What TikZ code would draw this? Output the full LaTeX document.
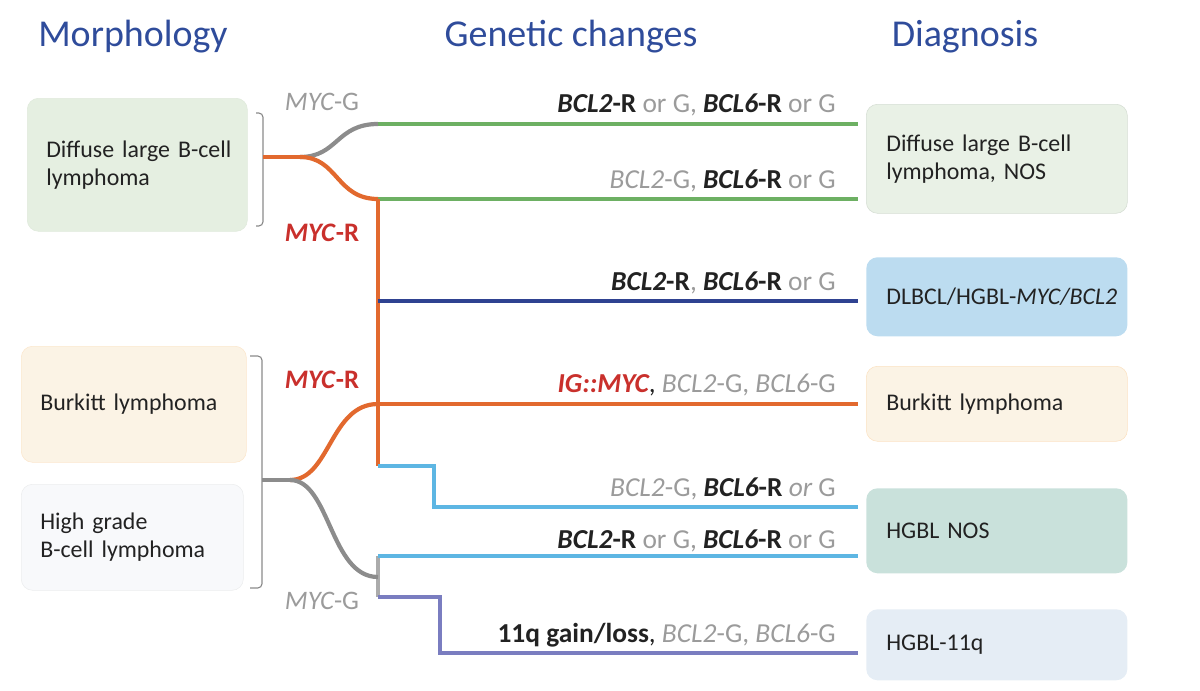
\documentclass[tikz,border=0pt]{standalone}
\usepackage{fontspec}
\setmainfont{Carlito}
\usepackage{xcolor}
\usepackage{tikz}
\usetikzlibrary{positioning,calc}
\definecolor{ttl}{HTML}{2F4C9B}
\definecolor{txt}{HTML}{222222}
\definecolor{lbl}{HTML}{9B9B9B}
\definecolor{myred}{HTML}{C9302C}
\definecolor{orng}{HTML}{E2692E}
\definecolor{grn}{HTML}{6DB063}
\definecolor{gline}{HTML}{8C8C8C}
\definecolor{lgline}{HTML}{ABABAB}
\definecolor{navy}{HTML}{2F4291}
\definecolor{lblue}{HTML}{5DB6E3}
\definecolor{purp}{HTML}{7A7DC0}
\definecolor{brk}{HTML}{8A8A8A}
\definecolor{fdlbcl}{HTML}{E5EFE1}
\definecolor{fburk}{HTML}{FBF3E5}
\definecolor{fhgbl}{HTML}{F8F9FB}
\definecolor{fdnos}{HTML}{E9F1E6}
\definecolor{fdhit}{HTML}{BCDCF0}
\definecolor{fnos}{HTML}{C9E1DB}
\definecolor{f11q}{HTML}{E5EDF5}
\newcommand{\bgene}[1]{{\bfseries\itshape #1}}
\newcommand{\ggene}[1]{\textcolor{lbl}{\itshape #1}}
\newcommand{\gry}[1]{\textcolor{lbl}{#1}}

\begin{document}
\begin{tikzpicture}[x=0.025cm, y=-0.025cm,
    title/.style={font=\fontsize{27}{32}\selectfont, text=ttl, anchor=base},
    morph/.style={rectangle, rounded corners=8pt, anchor=north west, inner xsep=0.475cm,
                  align=left, font=\fontsize{17}{20}\selectfont, text=txt},
    diag/.style={morph, minimum width=6.525cm, text width=5.525cm, inner xsep=0.5cm},
    gene/.style={anchor=base east, font=\fontsize{19.5}{22}\selectfont, text=txt, inner sep=0pt},
    myc/.style={anchor=base, font=\fontsize{19}{22}\selectfont, inner sep=0pt},
    path/.style={line width=3pt},
    bracket/.style={draw=brk, line width=0.8pt, rounded corners=3pt},
]
\useasboundingbox (0,0) rectangle (1200,690);

% headings
\node[title] (hmorph) at (133,47) {Morphology};
\node[title] (hgen) at (571,47) {Genetic changes};
\node[title] (hdiag) at (965,47) {Diagnosis};

% morphology
\node[morph, fill=fdlbcl, draw=fdlbcl!85!black!15!fdlbcl, minimum width=5.5cm, minimum height=3.325cm,
      text width=4.55cm] (mdlbcl) at (27,98) {\mbox{Diffuse large B-cell}\\lymphoma};
\node[morph, fill=fburk, draw=fburk!90!orange, minimum width=5.625cm, minimum height=2.9cm,
      text width=4.675cm] (mburk) at (21,346) {Burkitt lymphoma};
\node[morph, fill=fhgbl, draw=fhgbl!95!black, minimum width=5.55cm, minimum height=2.65cm,
      text width=4.6cm] (mhgbl) at (21,484) {High grade\\B-cell lymphoma};

% diagnosis
\node[diag, fill=fdnos, draw=fdnos!92!black, minimum height=2.725cm] (ddlbcl) at (866,104)
      {Diffuse large B-cell\\lymphoma, NOS};
\node[diag, fill=fdhit, minimum height=1.975cm] (ddhit) at (866,257)
      {\mbox{DLBCL/HGBL-\textit{MYC/BCL2}}};
\node[diag, fill=fburk, draw=fburk!85!orange, minimum height=1.875cm] (dburk) at (866,366)
      {Burkitt lymphoma};
\node[diag, fill=fnos, minimum height=2.125cm] (dnos) at (866,488) {HGBL NOS};
\node[diag, fill=f11q, minimum height=1.775cm] (d11q) at (866,609) {HGBL-11q};

% brackets
\draw[bracket] (256,113) -- (263,113) -- (263,226) -- (256,226);
\draw[bracket] (250,356) -- (262,356) -- (262,588) -- (250,588);

\coordinate (b1) at (263,157);
\coordinate (s1) at (300,157);
\coordinate (g1) at (378,124);
\coordinate (j1) at (378,199);
\coordinate (j2) at (378,301);
\coordinate (j3) at (378,404);
\coordinate (j4) at (378,466);
\coordinate (b2) at (262,480);
\coordinate (s2) at (290,480);
\coordinate (k1) at (378,577);
\coordinate (k2) at (378,556);
\coordinate (k3) at (378,597);
\coordinate (e1) at (858,124);
\coordinate (e2) at (858,199);
\coordinate (e3) at (858,301);
\coordinate (e4) at (858,404);
\coordinate (e5) at (858,507);
\coordinate (e6) at (858,556);
\coordinate (e7) at (858,653);

% branches
\draw[path, lgline] (k2) -- (k3);
\draw[path, grn] (g1) -- (e1);
\draw[path, grn] (j1) -- (e2);
\draw[path, orng] (j1) -- (j4);
\draw[path, navy] (j2) -- (e3);
\draw[path, orng] (j3) -- (e4);
\draw[path, lblue] (j4) -- ++(56,0) |- (e5);
\draw[path, lblue] (k2) -- (e6);
\draw[path, purp] (k3) -- ++(62,0) |- (e7);
\draw[path, gline] (s1) .. controls +(38,0) and +(-42,0) .. (g1);
\draw[path, orng] (s1) .. controls +(38,0) and +(-42,0) .. (j1);
\draw[path, orng] (b1) -- (s1);
\draw[path, orng] (s2) .. controls +(40,0) and +(-48,0) .. (j3);
\draw[path, gline] (s2) .. controls +(40,0) and +(-48,0) .. (k1);
\draw[path, gline] (b2) -- (s2);

% MYC status
\node[myc] (myc1) at (322,110) {\ggene{MYC}\gry{-G}};
\node[myc] (myc2) at (322,241) {\textcolor{myred}{\bgene{MYC}\textbf{-R}}};
\node[myc] (myc3) at (322,388) {\textcolor{myred}{\bgene{MYC}\textbf{-R}}};
\node[myc] (myc4) at (322,609) {\ggene{MYC}\gry{-G}};

% genetic changes
\node[gene] (g1lab) at (836,112) {\bgene{BCL2}\textbf{-R} \gry{or G,} \bgene{BCL6}\textbf{-R} \gry{or G}};
\node[gene] (g2lab) at (836,188) {\ggene{BCL2}\gry{-G,} \bgene{BCL6}\textbf{-R} \gry{or G}};
\node[gene] (g3lab) at (836,290) {\bgene{BCL2}\textbf{-R}\gry{,} \bgene{BCL6}\textbf{-R} \gry{or G}};
\node[gene] (g4lab) at (836,392) {\textcolor{myred}{\bgene{IG::MYC}}, \ggene{BCL2}\gry{-G,} \ggene{BCL6}\gry{-G}};
\node[gene] (g5lab) at (836,496) {\ggene{BCL2}\gry{-G,} \bgene{BCL6}\textbf{-R} \gry{\itshape or} \gry{G}};
\node[gene] (g6lab) at (836,548) {\bgene{BCL2}\textbf{-R} \gry{or G,} \bgene{BCL6}\textbf{-R} \gry{or G}};
\node[gene] (g7lab) at (836,642) {\textbf{11q gain/loss}, \ggene{BCL2}\gry{-G,} \ggene{BCL6}\gry{-G}};

\end{tikzpicture}
\end{document}
